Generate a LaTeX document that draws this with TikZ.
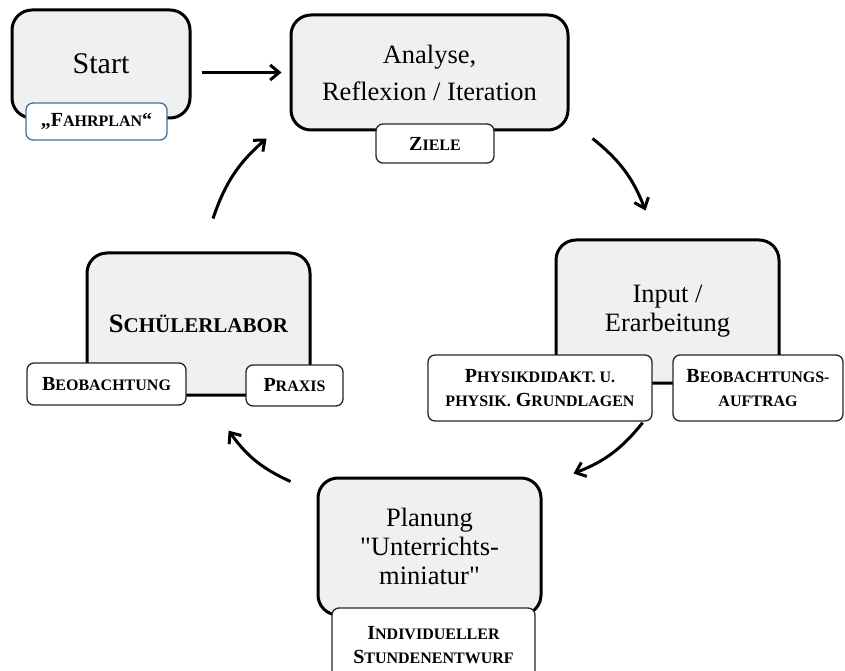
\documentclass[tikz,border=0pt]{standalone}
\usepackage{fontspec}
\setmainfont{Liberation Serif}[Ligatures=TeXOff]
\usetikzlibrary{arrows.meta}
\definecolor{planblau}{HTML}{41719C}
% fake small caps
\newcommand\kl[2][16]{{\fontsize{#1}{#1}\selectfont #2}}
\tikzset{
  phase/.style={draw, line width=3pt, fill=black!6, rounded corners=20pt, align=center,
    inner sep=0pt, font=\fontsize{26.5}{29}\selectfont},
  tag/.style={draw=black!85, line width=1.3pt, fill=white, rounded corners=7pt, align=center,
    inner sep=0pt, font=\bfseries\fontsize{20}{24}\selectfont},
  flow/.style={line width=3pt, -{Straight Barb[length=9pt,width=15pt]}},
}
\begin{document}
\begin{tikzpicture}[x=1pt,y=1pt]
\useasboundingbox (0,0) rectangle (845,670);
\clip (0,0) rectangle (845,670);
% phases
\node[phase, minimum width=178, minimum height=108, font=\fontsize{30}{32}\selectfont] (start) at (101,606) {Start};
\node[phase, minimum width=277, minimum height=115, font=\fontsize{26.5}{37}\selectfont] (analyse) at (429.5,597.5) {Analyse,\\Reflexion / Iteration};
\node[phase, minimum width=223, minimum height=143] (input) at (667.5,358.5) {Input /\\Erarbeitung};
\node[phase, minimum width=223, minimum height=137] (planung) at (429.5,123.5) {Planung\\"Unterrichts-\\miniatur"};
\node[phase, minimum width=223, minimum height=142] (labor) at (198.5,346) {\bfseries S\kl[21]{CHÜLERLABOR}};
% tags
\node[tag, draw=planblau, minimum width=141, minimum height=37] (fahrplan) at (96.5,548.5) {„F\kl{AHRPLAN}“};
\node[tag, minimum width=118, minimum height=39] (ziele) at (435,526.5) {Z\kl{IELE}};
\node[tag, minimum width=224, minimum height=66] (physik) at (540,282) {P\kl{HYSIKDIDAKT. U.}\\\kl{PHYSIK.} G\kl{RUNDLAGEN}};
\node[tag, minimum width=170, minimum height=66] (auftrag) at (758,282) {B\kl{EOBACHTUNGS-}\\\kl{AUFTRAG}};
\node[tag, minimum width=203, minimum height=74] (entwurf) at (433.5,25) {I\kl{NDIVIDUELLER}\\S\kl{TUNDENENTWURF}};
\node[tag, minimum width=159, minimum height=42] (beob) at (106.5,286) {B\kl{EOBACHTUNG}};
\node[tag, minimum width=97, minimum height=41] (praxis) at (294.5,284.5) {P\kl{RAXIS}};
% cycle
\draw[flow] ([shift={(10,-8.5)}]start.east) -- ([xshift=-8]analyse.west);
\draw[flow] ([shift={(23,-7)}]analyse.south east) to[bend left=15] ([shift={(-22,28)}]input.north);
\draw[flow] ([shift={(-10,-1)}]physik.south east) to[bend left=15] ([shift={(31,3)}]planung.north east);
\draw[flow] ([shift={(-26,-5)}]planung.north west) to[bend left=15] ([shift={(42,-25)}]beob.south east);
\draw[flow] ([shift={(14.5,33)}]labor.north) to[bend left=15] ([shift={(-23,-7)}]analyse.south west);
\end{tikzpicture}
\end{document}
